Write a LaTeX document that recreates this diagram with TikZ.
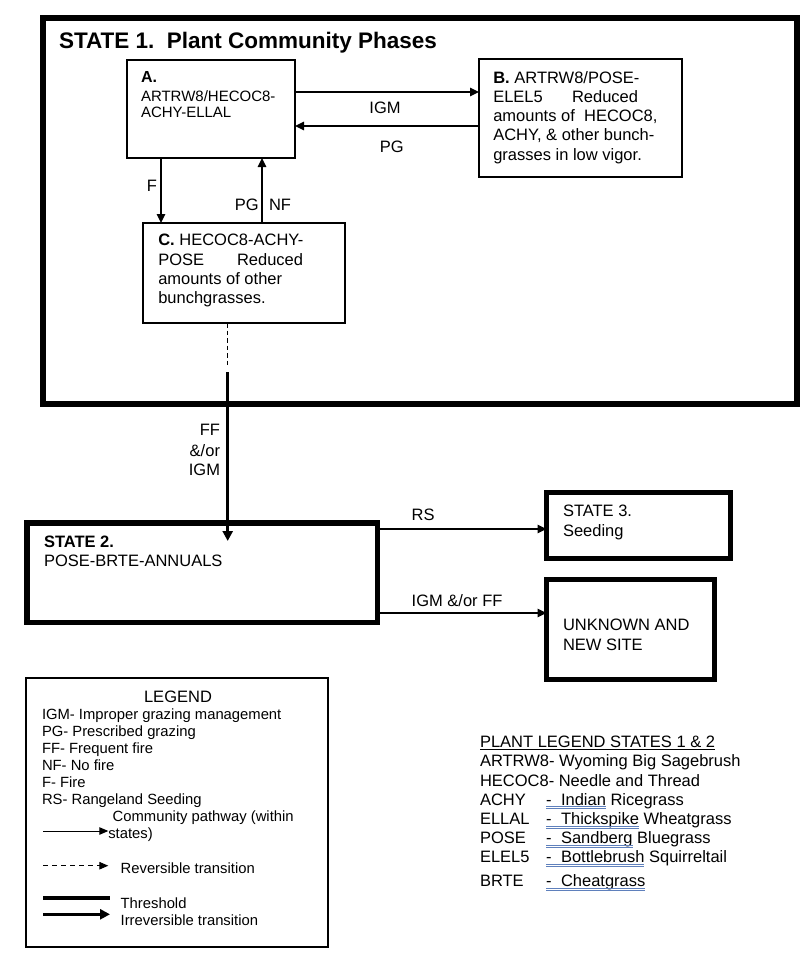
\documentclass[tikz,border=0pt]{standalone}
\usepackage{fontspec}
\setmainfont{Liberation Sans}
\usetikzlibrary{arrows.meta}
\newcommand{\fsz}[2]{\fontsize{#1}{#2}\selectfont}
\definecolor{spellblue}{RGB}{95,128,188}
\begin{document}
\begin{tikzpicture}[x=1pt,y=-1pt,
  box/.style={draw, inner sep=0pt, outer sep=0pt, anchor=north west, line width=1.3pt},
  heavybox/.style={box, line width=5.5pt},
  txt/.style={inner sep=0pt, outer sep=0pt, anchor=base west, font=\fsz{16.5}{19}},
  ctxt/.style={txt, anchor=base},
  rtxt/.style={txt, anchor=base east},
  smtxt/.style={txt, font=\fsz{14.8}{17}},
  arr/.style={line width=1.3pt, -{Triangle[length=9pt,width=8.5pt]}},
  heavyarr/.style={line width=3pt, -{Triangle[length=10pt,width=10pt]}},
  dasharr/.style={line width=1.5pt, dash pattern=on 4.5pt off 3pt},
  spell/.style={spellblue, line width=0.7pt}
]
\fill[white] (0,0) rectangle (800,964);
\useasboundingbox (0,0) rectangle (800,964);

% ---------- STATE 1 ----------
\node[heavybox, line width=6pt, minimum width=754pt, minimum height=386pt] (s1) at (43,18) {};
\node[txt, font=\fsz{22.5}{25}\bfseries] (t1) at (59,48) {STATE 1.\ \ Plant Community Phases};

% Box A
\node[box, minimum width=168pt, minimum height=98pt] (a) at (127,60) {};
\node[txt, font=\fsz{16}{18}\bfseries] (aA) at (141,82) {A.};
\node[txt, font=\fsz{15}{17}] (a1) at (141,101.5) {ARTRW8/HECOC8-};
\node[txt, font=\fsz{15}{17}] (a2) at (141,117) {ACHY-ELLAL};

% Box B
\node[box, minimum width=203pt, minimum height=118pt] (b) at (479,59) {};
\node[txt] (b1) at (493.3,83.3) {\textbf{B.} ARTRW8/POSE-};
\node[txt] (b2) at (493.3,102.5) {ELEL5};
\node[txt] (b2r) at (572,102.5) {Reduced};
\node[txt] (b3) at (493.3,121.7) {amounts of\ \ HECOC8,};
\node[txt] (b4) at (493.3,140.9) {ACHY, \& other bunch-};
\node[txt] (b5) at (493.3,160.1) {grasses in low vigor.};

% Box C
\node[box, minimum width=202pt, minimum height=100pt] (c) at (143,223) {};
\node[txt] (c1) at (158.3,245.7) {\textbf{C.} HECOC8-ACHY-};
\node[txt] (c2) at (158.3,265) {POSE};
\node[txt] (c2r) at (237,265) {Reduced};
\node[txt] (c3) at (158.3,284.2) {amounts of other};
\node[txt] (c4) at (158.3,303.4) {bunchgrasses.};

% pathways within state 1
\draw[arr] (a.east |- 0,92) -- (b.west |- 0,92);
\draw[arr] (b.west |- 0,126) -- (a.east |- 0,126);
\draw[arr] (a.south -| 161,0) -- (c.north -| 161,0);
\draw[arr] (c.north -| 262,0) -- (a.south -| 262,0);
\node[ctxt] (lIGM) at (385,113) {IGM};
\node[ctxt] (lPG) at (391.7,152.7) {PG};
\node[ctxt] (lF) at (152,191.7) {F};
\node[ctxt] (lPG2) at (246.7,210.7) {PG};
\node[ctxt] (lNF) at (280,210.7) {NF};

% transition to state 2
\coordinate (dend) at (227.7,368);
\coordinate (thr) at (227.7,372);
\coordinate (tip) at (227.7,541);
\draw[dasharr] (c.south -| dend) -- (dend);
\draw[heavyarr] (thr) -- (tip);
\node[rtxt] (lFF1) at (220,435) {FF};
\node[rtxt] (lFF2) at (220,456) {\&/or};
\node[rtxt] (lFF3) at (220,475) {IGM};

% ---------- STATE 2, 3, unknown ----------
\node[heavybox, minimum width=350.5pt, minimum height=99.5pt] (s2) at (26.75,522.75) {};
\node[txt, font=\fsz{16.5}{19}\bfseries] (s2a) at (44,547.3) {STATE 2.};
\node[txt] (s2b) at (44,566.7) {POSE-BRTE-ANNUALS};

\node[heavybox, line width=5pt, minimum width=184pt, minimum height=66pt] (s3) at (546.5,492.5) {};
\node[txt] (s3a) at (563,516.7) {STATE 3.};
\node[txt] (s3b) at (563,536.3) {Seeding};

\node[heavybox, line width=5pt, minimum width=168pt, minimum height=100pt] (unk) at (546.5,579.5) {};
\node[txt] (unka) at (563,630.7) {UNKNOWN AND};
\node[txt] (unkb) at (563,650) {NEW SITE};

\draw[arr] (s2.east |- 0,529) -- (s3.west |- 0,529);
\draw[arr] (s2.east |- 0,613) -- (unk.west |- 0,613);
\node[txt] (lRS) at (411.7,520.7) {RS};
\node[txt] (lIGMFF) at (411.7,606.7) {IGM \&/or FF};

% ---------- LEGEND ----------
\node[box, minimum width=302pt, minimum height=269pt] (leg) at (26,678) {};
\node[ctxt] (legT) at (178,702.3) {LEGEND};
\node[smtxt] (lg1) at (42,719.3) {IGM- Improper grazing management};
\node[smtxt] (lg2) at (42,736.3) {PG- Prescribed grazing};
\node[smtxt] (lg3) at (42,753.3) {FF- Frequent fire};
\node[smtxt] (lg4) at (42,770.3) {NF- No fire};
\node[smtxt] (lg5) at (42,787.3) {F- Fire};
\node[smtxt] (lg6) at (42,804.3) {RS- Rangeland Seeding};
\node[smtxt] (lg7) at (112.7,821.7) {Community pathway (within};
\node[smtxt] (lg8) at (108.3,838.3) {states)};
\coordinate (p1s) at (43.3,831);
\coordinate (p1e) at (108.3,831);
\draw[line width=1pt, -{Triangle[length=9pt,width=7.5pt]}] (p1s) -- (p1e);
\node[smtxt] (lg9) at (120.7,873.3) {Reversible transition};
\coordinate (p2s) at (43.3,865.7);
\coordinate (p2e) at (108.3,865.7);
\draw[line width=1pt, dash pattern=on 5pt off 4pt] (p2s) -- ([xshift=-6pt]p2e);
\draw[line width=1pt, -{Triangle[length=9pt,width=7.5pt]}] ([xshift=-6pt]p2e) -- (p2e);
\node[smtxt] (lg10) at (120.7,908.3) {Threshold};
\node[smtxt] (lg11) at (120.7,925) {Irreversible transition};
\coordinate (p3s) at (43.3,897.7);
\coordinate (p3e) at (110,897.7);
\draw[line width=4pt] (p3s) -- (p3e);
\coordinate (p4s) at (43.3,914.3);
\coordinate (p4e) at (110,914.3);
\draw[line width=3.2pt, -{Triangle[length=10pt,width=10pt]}] (p4s) -- (p4e);

% ---------- PLANT LEGEND ----------
\node[txt] (pl) at (480,747.3) {PLANT LEGEND STATES 1 \& 2};
\draw[line width=1pt] ([yshift=-1.8pt]pl.base west) -- ([yshift=-1.8pt]pl.base east);
\node[txt] (pl1) at (480,766.7) {ARTRW8- Wyoming Big Sagebrush};
\node[txt] (pl2) at (480,786) {HECOC8- Needle and Thread};
\node[txt] (pl3) at (480,805.2) {ACHY};
\node[txt] (pl4) at (480,824.4) {ELLAL};
\node[txt] (pl5) at (480,843.6) {POSE};
\node[txt] (pl6) at (480,862.8) {ELEL5};
\node[txt] (pl7) at (480,886.7) {BRTE};
\node[txt] (d3) at (546,805.2) {-};
\node[txt] (d4) at (546,824.4) {-};
\node[txt] (d5) at (546,843.6) {-};
\node[txt] (d6) at (546,862.8) {-};
\node[txt] (d7) at (546,886.7) {-};
\node[txt] (w3) at (561,805.2) {Indian};
\node[txt] (w4) at (561,824.4) {Thickspike};
\node[txt] (w5) at (561,843.6) {Sandberg};
\node[txt] (w6) at (561,862.8) {Bottlebrush};
\node[txt] (w7) at (561,886.7) {Cheatgrass};
\node[txt] (r3) at ([xshift=4.6pt]w3.base east) {Ricegrass};
\node[txt] (r4) at ([xshift=4.6pt]w4.base east) {Wheatgrass};
\node[txt] (r5) at ([xshift=4.6pt]w5.base east) {Bluegrass};
\node[txt] (r6) at ([xshift=4.6pt]w6.base east) {Squirreltail};
\foreach \i in {3,4,5,6,7}{
  \draw[spell] ([yshift=-1.6pt]d\i.base west) -- ([yshift=-1.6pt]w\i.base east);
  \draw[spell] ([yshift=-3.6pt]d\i.base west) -- ([yshift=-3.6pt]w\i.base east);
}
\end{tikzpicture}
\end{document}
